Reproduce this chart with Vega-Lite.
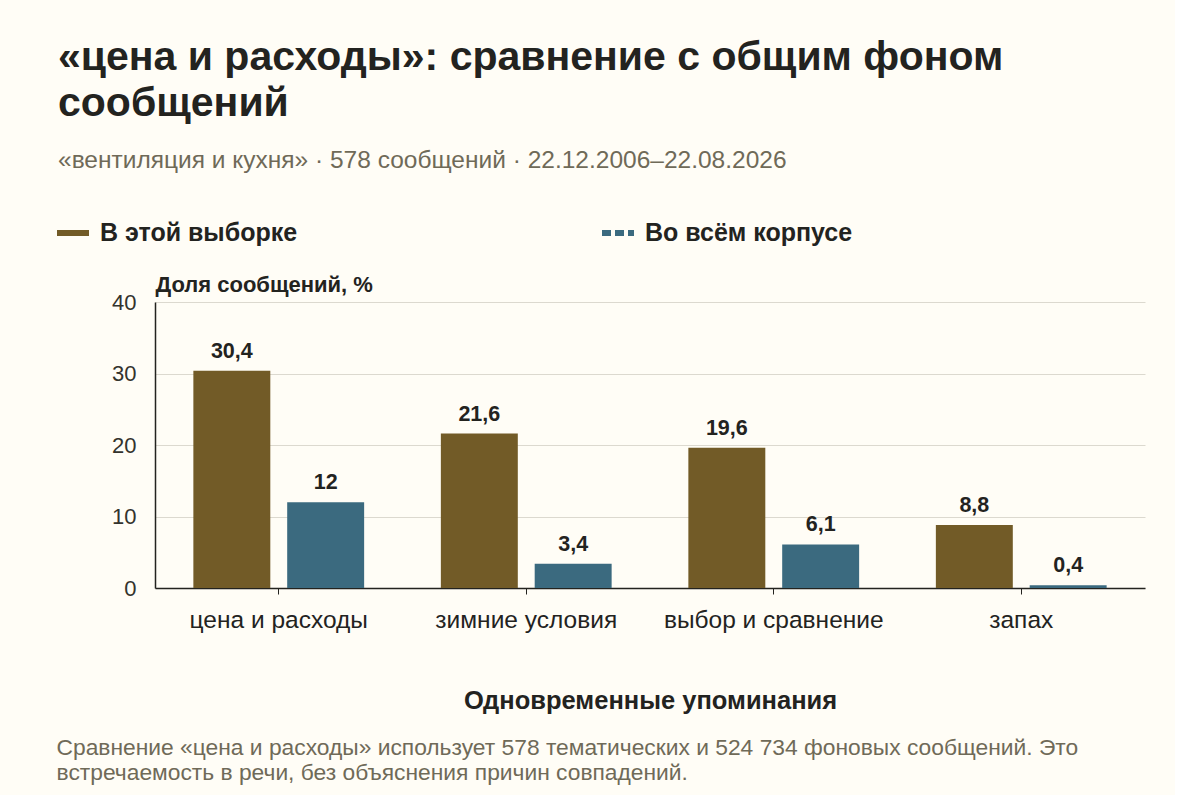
{
  "$schema": "https://vega.github.io/schema/vega-lite/v6.json",
  "background": "#fffdf6",
  "padding": {"left": 54, "top": 36, "right": 30, "bottom": 10},
  "title": {
    "text": ["«цена и расходы»: сравнение с общим фоном", "сообщений"],
    "subtitle": "«вентиляция и кухня» · 578 сообщений · 22.12.2006–22.08.2026",
    "anchor": "start",
    "frame": "bounds",
    "dx": 4,
    "font": "Liberation Sans",
    "fontSize": 41,
    "fontWeight": "bold",
    "color": "#23231f",
    "lineHeight": 46,
    "subtitleFont": "Liberation Sans",
    "subtitleFontSize": 24.5,
    "subtitleColor": "#6f6a58",
    "subtitlePadding": 24,
    "offset": 41
  },
  "config": {
    "font": "Liberation Sans",
    "view": {"stroke": null},
    "locale": {"number": {"decimal": ",", "thousands": " ", "grouping": [3], "currency": ["", ""]}}
  },
  "vconcat": [
    {
      "width": 990,
      "height": 286,
      "title": {
        "text": ["Сравнение «цена и расходы» использует 578 тематических и 524 734 фоновых сообщений. Это", "встречаемость в речи, без объяснения причин совпадений."],
        "orient": "bottom",
        "anchor": "start",
        "frame": "bounds",
        "font": "Liberation Sans",
        "fontSize": 22.8,
        "fontWeight": "normal",
        "color": "#6f6a58",
        "lineHeight": 25,
        "offset": 23,
        "dx": -55
      },
      "data": {
        "values": [
          {"topic": "цена и расходы", "series": "В этой выборке", "value": 30.4},
          {"topic": "цена и расходы", "series": "Во всём корпусе", "value": 12},
          {"topic": "зимние условия", "series": "В этой выборке", "value": 21.6},
          {"topic": "зимние условия", "series": "Во всём корпусе", "value": 3.4},
          {"topic": "выбор и сравнение", "series": "В этой выборке", "value": 19.6},
          {"topic": "выбор и сравнение", "series": "Во всём корпусе", "value": 6.1},
          {"topic": "запах", "series": "В этой выборке", "value": 8.8},
          {"topic": "запах", "series": "Во всём корпусе", "value": 0.4}
        ]
      },
      "encoding": {
        "x": {
          "field": "topic",
          "type": "nominal",
          "sort": null,
          "scale": {"paddingInner": 0.31, "paddingOuter": 0.155},
          "axis": {
            "title": "Одновременные упоминания",
            "titleFontSize": 25.5,
            "titleFontWeight": "bold",
            "titleColor": "#23231f",
            "titlePadding": 57,
            "labelAngle": 0,
            "labelFontSize": 24.5,
            "labelColor": "#23231f",
            "labelPadding": 14,
            "labelLimit": 400,
            "tickSize": 6,
            "tickColor": "#23231f",
            "domainColor": "#23231f",
            "domainWidth": 1.5,
            "grid": false
          }
        },
        "xOffset": {
          "field": "series",
          "type": "nominal",
          "sort": ["В этой выборке", "Во всём корпусе"],
          "scale": {"paddingInner": 0.18, "paddingOuter": 0}
        },
        "y": {
          "field": "value",
          "type": "quantitative",
          "scale": {"domain": [0, 40]},
          "axis": {
            "values": [0, 10, 20, 30, 40],
            "title": "Доля сообщений, %",
            "titleAngle": 0,
            "titleAlign": "left",
            "titleBaseline": "bottom",
            "titleX": 0,
            "titleY": -6,
            "titleFontSize": 22,
            "titleFontWeight": "bold",
            "titleColor": "#23231f",
            "labelFontSize": 22,
            "labelColor": "#33332d",
            "labelPadding": 19,
            "ticks": false,
            "domainColor": "#23231f",
            "domainWidth": 1.5,
            "gridColor": "#dcd9cf",
            "gridWidth": 1
          }
        }
      },
      "layer": [
        {
          "mark": {"type": "bar", "strokeWidth": 0},
          "encoding": {
            "color": {
              "field": "series",
              "type": "nominal",
              "sort": ["В этой выборке", "Во всём корпусе"],
              "scale": {"domain": ["В этой выборке", "Во всём корпусе"], "range": ["#725b27", "#3b6a7f"]},
              "legend": {
                "title": null,
                "orient": "none",
                "legendX": -101,
                "legendY": -88,
                "direction": "horizontal",
                "symbolType": "stroke",
                "symbolStrokeWidth": 6,
                "symbolSize": 1024,
                "labelFontSize": 25,
                "labelFontWeight": "bold",
                "labelColor": "#23231f",
                "labelOffset": 8,
                "columnPadding": 292,
                "labelLimit": 400
              }
            },
            "stroke": {
              "field": "series",
              "type": "nominal",
              "sort": ["В этой выборке", "Во всём корпусе"],
              "scale": {"domain": ["В этой выборке", "Во всём корпусе"], "range": ["#725b27", "#3b6a7f"]},
              "legend": {
                "title": null,
                "orient": "none",
                "legendX": -101,
                "legendY": -88,
                "direction": "horizontal",
                "symbolType": "stroke",
                "symbolStrokeWidth": 6,
                "symbolSize": 1024,
                "labelFontSize": 25,
                "labelFontWeight": "bold",
                "labelColor": "#23231f",
                "labelOffset": 8,
                "columnPadding": 292,
                "labelLimit": 400
              }
            },
            "strokeDash": {
              "field": "series",
              "type": "nominal",
              "sort": ["В этой выборке", "Во всём корпусе"],
              "scale": {"domain": ["В этой выборке", "Во всём корпусе"], "range": [[1, 0], [9, 4]]},
              "legend": {
                "title": null,
                "orient": "none",
                "legendX": -101,
                "legendY": -88,
                "direction": "horizontal",
                "symbolType": "stroke",
                "symbolStrokeWidth": 6,
                "symbolSize": 1024,
                "labelFontSize": 25,
                "labelFontWeight": "bold",
                "labelColor": "#23231f",
                "labelOffset": 8,
                "columnPadding": 292,
                "labelLimit": 400
              }
            }
          }
        },
        {
          "mark": {"type": "text", "baseline": "bottom", "dy": -8, "fontSize": 21.5, "fontWeight": "bold", "color": "#23231f"},
          "encoding": {
            "text": {"field": "value", "type": "quantitative", "format": ".1~f"}
          }
        }
      ]
    }
  ]
}
